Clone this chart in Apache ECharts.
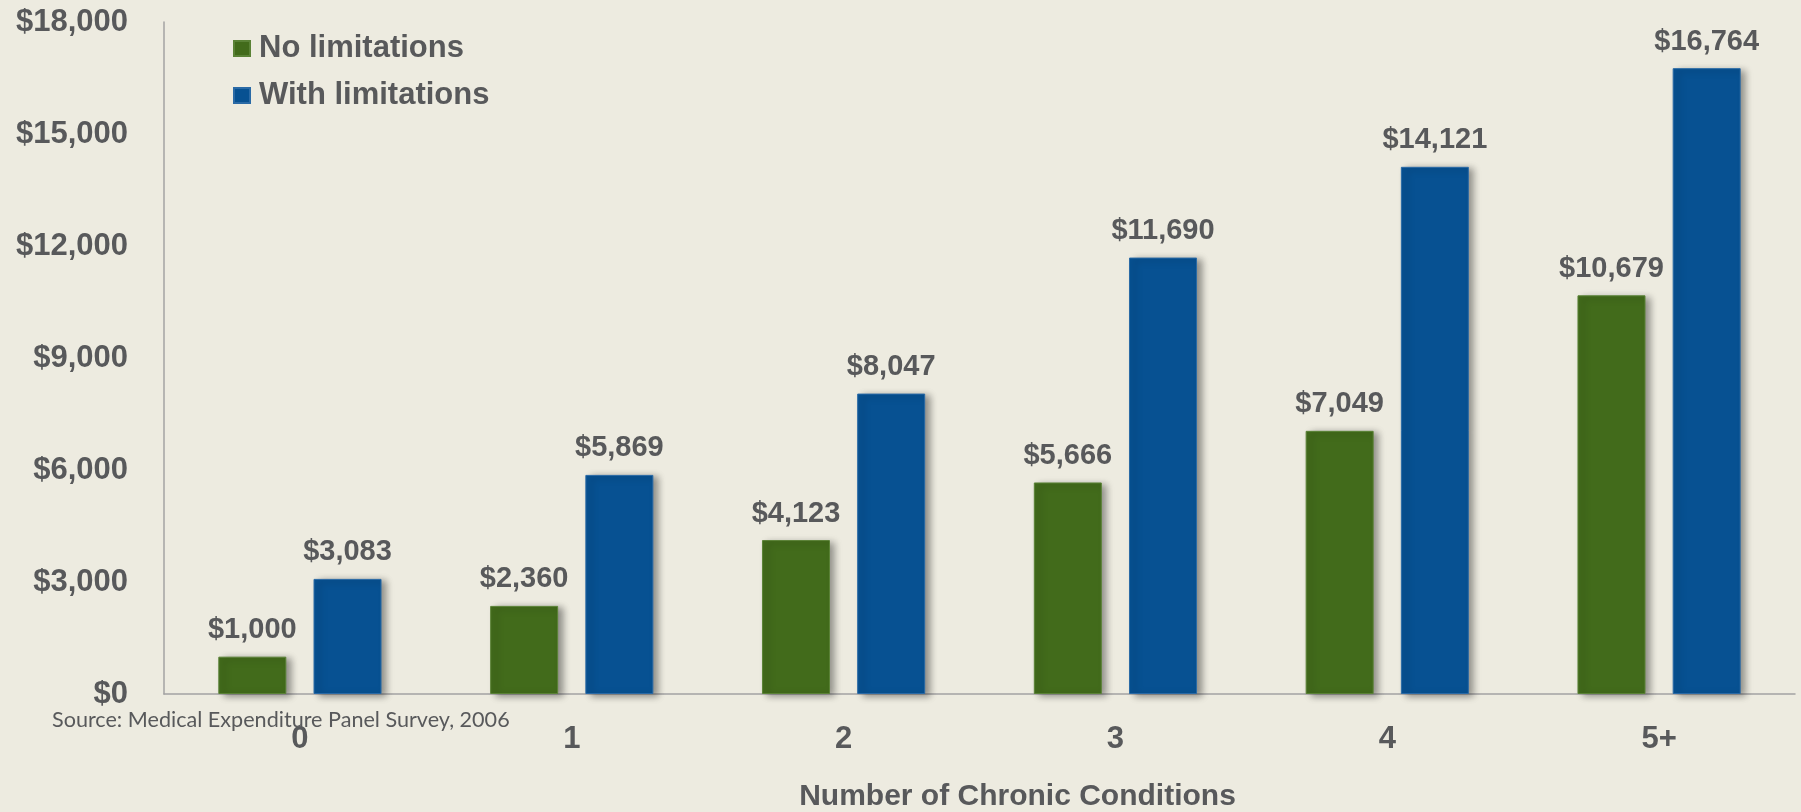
<!DOCTYPE html>
<html>
<head>
<meta charset="utf-8">
<script src="https://cdn.jsdelivr.net/npm/echarts@6/dist/echarts.min.js"></script>
<style>
  html, body {margin: 0; padding: 0; background: #edebe0;}
  #chart {width: 1801px; height: 812px;}
</style>
</head>
<body>
<div id="chart"></div>
<script>
// 数据
var categories = ['0', '1', '2', '3', '4', '5+']
var noLimitations = [1000, 2360, 4123, 5666, 7049, 10679]
var withLimitations = [3083, 5869, 8047, 11690, 14121, 16764]
var yTicks = {min: 0, max: 18000, interval: 3000}

var textColor = '#58595b'

function money (v) {
  return '$' + String(v).replace(/\B(?=(\d{3})+(?!\d))/g, ',')
}

var barShadow = {
  shadowColor: 'rgba(0,0,0,0.4)',
  shadowBlur: 7,
  shadowOffsetX: 5,
  shadowOffsetY: 2
}

var option = {
  backgroundColor: '#edebe0',
  animation: false,
  textStyle: {
    fontFamily: '"Liberation Sans", Arial, sans-serif',
    color: textColor
  },
  legend: {
    orient: 'vertical',
    left: 228,
    top: 28,
    itemWidth: 16,
    itemHeight: 15,
    itemGap: 16,
    icon: 'rect',
    data: ['No limitations', 'With limitations'],
    textStyle: {
      color: textColor,
      fontSize: 31,
      fontWeight: 'bold',
      padding: [0, 0, 0, 4]
    }
  },
  grid: {
    left: 164,
    right: 6,
    top: 22,
    bottom: 118,
    outerBoundsMode: 'none' // 不自动收缩
  },
  xAxis: {
    type: 'category',
    data: categories,
    axisTick: {show: false},
    axisLine: {lineStyle: {color: '#a3a3a3', width: 1.5}},
    axisLabel: {
      color: textColor,
      fontSize: 31,
      fontWeight: 'bold',
      margin: 30
    },
    name: 'Number of Chronic Conditions',
    nameLocation: 'middle',
    nameGap: 88,
    nameTextStyle: {
      color: textColor,
      fontSize: 30,
      fontWeight: 'bold',
      padding: [0, 0, 0, 76]
    }
  },
  yAxis: {
    type: 'value',
    min: yTicks.min,
    max: yTicks.max,
    interval: yTicks.interval,
    splitLine: {show: false},
    axisTick: {show: false},
    axisLine: {show: true, lineStyle: {color: '#a3a3a3', width: 1.5}},
    axisLabel: {
      color: textColor,
      fontSize: 31,
      fontWeight: 'bold',
      margin: 36,
      formatter: money
    }
  },
  graphic: [{
    type: 'text',
    left: 52,
    top: 709,
    style: {
      text: 'Source: Medical Expenditure Panel Survey, 2006',
      font: '21.6px Lato, "Open Sans", sans-serif',
      fill: textColor
    }
  }],
  series: [{
    name: 'No limitations',
    type: 'bar',
    data: noLimitations,
    barWidth: 68,
    barGap: '40%',
    itemStyle: Object.assign({color: '#426b1b', borderColor: '#5a8236', borderWidth: 1}, barShadow),
    label: {
      show: true,
      position: 'top',
      distance: 12,
      color: textColor,
      fontSize: 29,
      fontWeight: 'bold',
      formatter: function (p) { return money(p.value) }
    }
  }, {
    name: 'With limitations',
    type: 'bar',
    data: withLimitations,
    barWidth: 68,
    itemStyle: Object.assign({color: '#075192', borderColor: '#2a6aa6', borderWidth: 1}, barShadow),
    label: {
      show: true,
      position: 'top',
      distance: 12,
      color: textColor,
      fontSize: 29,
      fontWeight: 'bold',
      formatter: function (p) { return money(p.value) }
    }
  }]
}

var chart = echarts.init(document.getElementById('chart'))
chart.setOption(option)
</script>
</body>
</html>
